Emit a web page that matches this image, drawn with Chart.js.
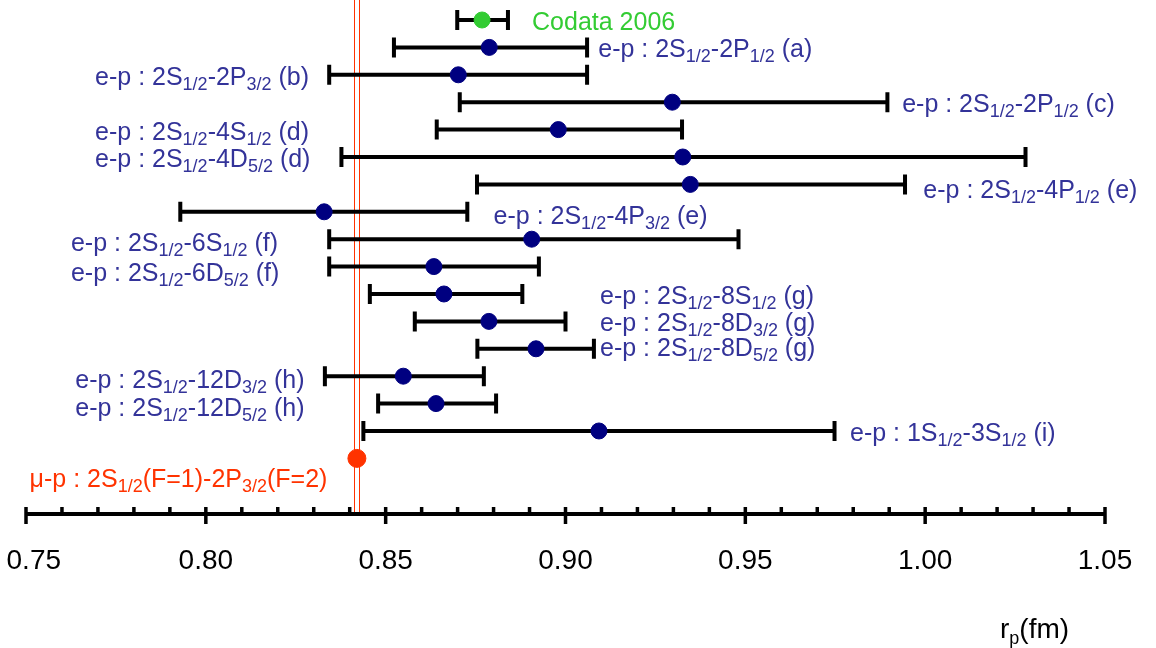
<!DOCTYPE html>
<html>
<head>
<meta charset="utf-8">
<script src="https://cdn.jsdelivr.net/npm/chart.js@4.4.1/dist/chart.umd.min.js"></script>
<style>
  html, body { margin: 0; padding: 0; background: #fff; }
  #wrap { width: 1156px; height: 648px; }
</style>
</head>
<body>
<div id="wrap"><canvas id="myChart"></canvas></div>
<script>
// one row per measurement, top to bottom
const names = [
  "Codata 2006",
  "e-p : 2S_{1/2}-2P_{1/2} (a)",
  "e-p : 2S_{1/2}-2P_{3/2} (b)",
  "e-p : 2S_{1/2}-2P_{1/2} (c)",
  "e-p : 2S_{1/2}-4S_{1/2} (d)",
  "e-p : 2S_{1/2}-4D_{5/2} (d)",
  "e-p : 2S_{1/2}-4P_{1/2} (e)",
  "e-p : 2S_{1/2}-4P_{3/2} (e)",
  "e-p : 2S_{1/2}-6S_{1/2} (f)",
  "e-p : 2S_{1/2}-6D_{5/2} (f)",
  "e-p : 2S_{1/2}-8S_{1/2} (g)",
  "e-p : 2S_{1/2}-8D_{3/2} (g)",
  "e-p : 2S_{1/2}-8D_{5/2} (g)",
  "e-p : 2S_{1/2}-12D_{3/2} (h)",
  "e-p : 2S_{1/2}-12D_{5/2} (h)",
  "e-p : 1S_{1/2}-3S_{1/2} (i)",
  "\u03bc-p : 2S_{1/2}(F=1)-2P_{3/2}(F=2)"
];
const centers = [0.8768, 0.8788, 0.8702, 0.9297, 0.8980, 0.9326, 0.9347, 0.8329, 0.8906,
  0.8634, 0.8662, 0.8787, 0.8918, 0.8549, 0.8640, 0.9093, 0.8420];
const lows = [0.8699, 0.8523, 0.8343, 0.8706, 0.8642, 0.8377, 0.8754, 0.7929, 0.8343,
  0.8343, 0.8456, 0.8581, 0.8755, 0.8331, 0.8479, 0.8438, 0.8417];
const highs = [0.8840, 0.9060, 0.9060, 0.9895, 0.9324, 1.0279, 0.9944, 0.8727, 0.9481,
  0.8926, 0.8880, 0.9000, 0.9079, 0.8773, 0.8807, 0.9748, 0.8423];
const muonBand = [0.8413, 0.8426];
const xTicks = [0.75, 0.80, 0.85, 0.90, 0.95, 1.00, 1.05];
const minorStep = 0.01;

// where each row's text goes: [x value of text start, row shift]
const labelAt = [
  [0.8907, 0], [0.9091, 0], [0.7692, 0], [0.9936, 0], [0.7692, 0], [0.7692, 0],
  [0.9995, 0.13], [0.8800, 0.07], [0.7625, 0.08], [0.7625, 0.17], [0.9096, 0],
  [0.9096, 0], [0.9096, -0.1], [0.7637, 0.05], [0.7637, 0.1], [0.9791, 0], [0.7510, 0.68]
];

const NAVY = "#000080", GREEN = "#33cc33", RED = "#ff3300", TEXTBLUE = "#333399";
const FONT = "'Liberation Sans', Arial, sans-serif";
const rowColor = (i) => i === 0 ? GREEN : (i === names.length - 1 ? RED : TEXTBLUE);

const pts = centers.map((c, i) => ({ x: c, y: i }));

function drawRich(ctx, str, x, yMid, size, subSize, color) {
  const base = yMid + size * 0.4;
  ctx.fillStyle = color;
  ctx.textBaseline = "alphabetic";
  ctx.textAlign = "left";
  const parts = str.split(/(_\{[^}]*\})/);
  for (const p of parts) {
    if (!p) continue;
    if (p.startsWith("_{")) {
      const t = p.slice(2, -1);
      ctx.font = subSize + "px " + FONT;
      ctx.fillText(t, x, base + 5);
      x += ctx.measureText(t).width;
    } else {
      ctx.font = size + "px " + FONT;
      ctx.fillText(p, x, base);
      x += ctx.measureText(p).width;
    }
  }
}

const extras = {
  id: "extras",
  beforeDatasetsDraw(chart) {
    const { ctx, chartArea, scales: { x, y } } = chart;
    ctx.save();
    // muon band
    ctx.strokeStyle = RED;
    ctx.lineWidth = 1;
    muonBand.forEach((v) => {
      const px = Math.round(x.getPixelForValue(v)) + 0.5;
      ctx.beginPath();
      ctx.moveTo(px, chartArea.top);
      ctx.lineTo(px, chartArea.bottom);
      ctx.stroke();
    });
    // error bars
    ctx.strokeStyle = "#000";
    ctx.lineWidth = 4;
    for (let i = 0; i < centers.length - 1; i++) {
      const py = y.getPixelForValue(i);
      const x0 = x.getPixelForValue(lows[i]), x1 = x.getPixelForValue(highs[i]);
      ctx.beginPath();
      ctx.moveTo(x0, py); ctx.lineTo(x1, py);
      ctx.moveTo(x0, py - 10); ctx.lineTo(x0, py + 10);
      ctx.moveTo(x1, py - 10); ctx.lineTo(x1, py + 10);
      ctx.stroke();
    }
    // axis
    const ay = chartArea.bottom;
    ctx.lineWidth = 4;
    ctx.beginPath();
    ctx.moveTo(x.getPixelForValue(xTicks[0]), ay);
    ctx.lineTo(x.getPixelForValue(xTicks[xTicks.length - 1]), ay);
    ctx.stroke();
    ctx.lineWidth = 3.5;
    ctx.beginPath();
    for (let v = xTicks[0]; v <= xTicks[xTicks.length - 1] + 1e-9; v += minorStep) {
      const px = x.getPixelForValue(v);
      const major = xTicks.some((t) => Math.abs(t - v) < 1e-6);
      ctx.moveTo(px, ay - 7);
      ctx.lineTo(px, major ? ay + 10 : ay);
    }
    ctx.stroke();
    ctx.restore();
  },
  afterDatasetsDraw(chart) {
    const { ctx, chartArea, scales: { x, y } } = chart;
    ctx.save();
    names.forEach((n, i) => {
      const [lx, dy] = labelAt[i];
      drawRich(ctx, n, x.getPixelForValue(lx), y.getPixelForValue(i + dy), 25, 18, rowColor(i));
    });
    // axis title
    ctx.fillStyle = "#000";
    ctx.font = "28px " + FONT;
    ctx.textBaseline = "alphabetic";
    let tx = chartArea.right - 105, ty = 638;
    ctx.fillText("r", tx, ty);
    tx += ctx.measureText("r").width;
    ctx.font = "18px " + FONT;
    ctx.fillText("p", tx, ty + 6);
    tx += ctx.measureText("p").width;
    ctx.font = "28px " + FONT;
    ctx.fillText("(fm)", tx, ty);
    ctx.restore();
  }
};

const ctx = document.getElementById("myChart").getContext("2d");
const myChart = new Chart(ctx, {
  type: "scatter",
  data: {
    datasets: [
      {
        label: "Codata 2006",
        data: pts.slice(0, 1),
        backgroundColor: GREEN,
        borderColor: GREEN,
        pointRadius: 8,
      },
      {
        label: "e-p",
        data: pts.slice(1, pts.length - 1),
        backgroundColor: NAVY,
        borderColor: NAVY,
        pointRadius: 8,
      },
      {
        label: "mu-p",
        data: pts.slice(pts.length - 1),
        backgroundColor: RED,
        borderColor: RED,
        pointRadius: 9,
      },
    ],
  },
  options: {
    responsive: true,
    maintainAspectRatio: false,
    animation: false,
    layout: { autoPadding: false, padding: { left: 26, right: 51, top: 0, bottom: 0 } },
    plugins: { legend: { display: false }, tooltip: { enabled: false } },
    scales: {
      x: {
        type: "linear",
        min: xTicks[0],
        max: xTicks[xTicks.length - 1],
        grid: { display: false, drawTicks: false },
        border: { display: false },
        afterFit: (s) => { s.height = 134; s.paddingLeft = 0; s.paddingRight = 0; },
        afterBuildTicks: (s) => { s.ticks = xTicks.map((v) => ({ value: v })); },
        ticks: {
          color: "#000",
          font: { family: FONT, size: 28 },
          padding: 30,
          maxRotation: 0,
          autoSkip: false,
          // first label sits a little inside the left edge, as in the original
          callback: (v, i) => (i === 0 ? "  " : "") + Number(v).toFixed(2),
        },
      },
      y: {
        type: "linear",
        display: false,
        reverse: true,
        min: -0.73,
        max: 18.03,
      },
    },
  },
  plugins: [extras],
});
</script>
</body>
</html>
